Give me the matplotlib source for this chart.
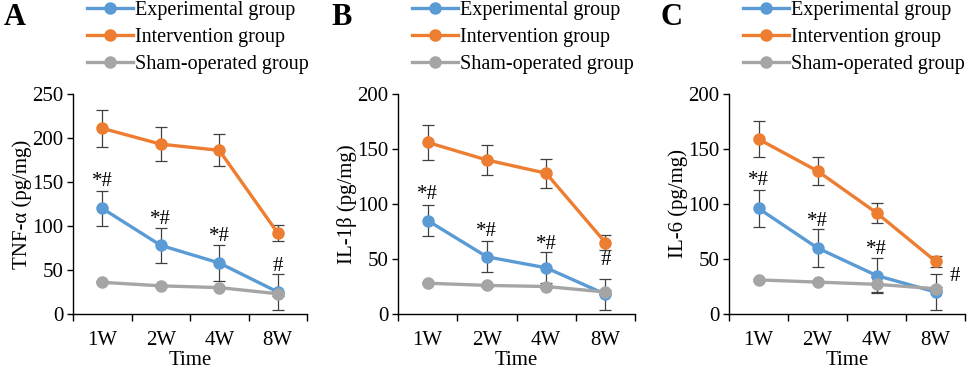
import matplotlib
matplotlib.use('Agg')
import matplotlib.pyplot as plt

plt.rcParams['font.family'] = ['Liberation Serif', 'DejaVu Serif']

weeks = ['1W', '2W', '4W', '8W']
names = ['Experimental group', 'Intervention group', 'Sham-operated group']
colors = ['#5B9BD5', '#ED7D31', '#A5A5A5']

# TNF-alpha
tnf_exp = [120, 78, 58, 25]
tnf_exp_err = [20, 20, 20, 20]
tnf_int = [211, 193, 186, 92]
tnf_int_err = [21, 19, 18, 9]
tnf_sham = [36, 32, 30, 23]
tnf_sham_err = [1, 1, 1, 2]
tnf_marks = ['*#', '*#', '*#', '#']
tnf_mark_y = [150, 107, 88, 54]

# IL-1beta
il1_exp = [85, 52, 42, 18]
il1_exp_err = [14, 14, 14, 14]
il1_int = [156, 140, 128, 65]
il1_int_err = [16, 14, 13, 7]
il1_sham = [28, 26, 25, 20]
il1_sham_err = [1, 1, 1, 2]
il1_marks = ['*#', '*#', '*#', '#']
il1_mark_y = [109, 75, 63, 49]

# IL-6
il6_exp = [96, 60, 35, 20]
il6_exp_err = [17, 17, 16, 16]
il6_int = [159, 130, 92, 48]
il6_int_err = [16, 13, 9, 5]
il6_sham = [31, 29, 27, 23]
il6_sham_err = [1, 1, 7, 2]
il6_marks = ['*#', '*#', '*#', '#']
il6_mark_y = [121, 84, 59, 34]

panels = [
    ('A', 'TNF-α (pg/mg)', 250, [tnf_exp, tnf_int, tnf_sham], [tnf_exp_err, tnf_int_err, tnf_sham_err], tnf_marks, tnf_mark_y),
    ('B', 'IL-1β (pg/mg)', 200, [il1_exp, il1_int, il1_sham], [il1_exp_err, il1_int_err, il1_sham_err], il1_marks, il1_mark_y),
    ('C', 'IL-6 (pg/mg)', 200, [il6_exp, il6_int, il6_sham], [il6_exp_err, il6_int_err, il6_sham_err], il6_marks, il6_mark_y),
]

fig = plt.figure(figsize=(9.69, 3.76), dpi=100)
W, H = 969, 376
lefts = [73, 398, 729]
widths = [234, 237, 236]
letter_x = [4, 331, 661]
fs = 15

for k, (letter, ylab, ymax, series, errs, marks, mark_y) in enumerate(panels):
    ax = fig.add_axes([lefts[k] / W, (H - 314) / H, widths[k] / W, 220 / H])
    x = range(len(weeks))
    handles = []
    for vals, err, c, nm in zip(series, errs, colors, names):
        ax.errorbar(x, vals, yerr=err, fmt='none', ecolor='#404040', elinewidth=0.9, capsize=4, capthick=0.9, zorder=2)
        h, = ax.plot(x, vals, '-o', color=c, lw=2.4, ms=8, label=nm, zorder=3)
        handles.append(h)
    for i, (m, my) in enumerate(zip(marks, mark_y)):
        xi = i
        if letter == 'C' and i == 3:
            xi = 3.32
        ax.text(xi, my, m, ha='center', va='center', fontsize=fs, zorder=4)
    ax.set_xlim(-0.5, 3.5)
    ax.set_ylim(0, ymax)
    ax.set_yticks(range(0, ymax + 1, 50))
    ax.set_xticks([-0.5, 0.5, 1.5, 2.5, 3.5])
    ax.set_xticklabels([])
    ax.set_xticks(list(x), minor=True)
    ax.set_xticklabels(weeks, minor=True)
    ax.tick_params(axis='x', which='minor', length=0, labelsize=fs, pad=12)
    ax.tick_params(axis='x', which='major', length=5, width=1, direction='out')
    ax.tick_params(axis='y', length=4, width=1, labelsize=fs, pad=3)
    for s in ['top', 'right']:
        ax.spines[s].set_visible(False)
    for s in ['left', 'bottom']:
        ax.spines[s].set_linewidth(1)
    ax.set_xlabel('Time', fontsize=fs, labelpad=1)
    ax.set_ylabel(ylab, fontsize=fs, labelpad=0)
    ax.legend(handles=handles, loc='upper left',
              bbox_to_anchor=((lefts[k] + 14) / W, 1 - 1 / H), bbox_transform=fig.transFigure,
              frameon=False, fontsize=14.5, handlelength=2.3, handletextpad=0.1,
              labelspacing=0.38, borderpad=0.0, borderaxespad=0.0)
    fig.text(letter_x[k] / W, 1 - 3 / H, letter, fontsize=22, fontweight='bold', ha='left', va='top')

fig.savefig('out.png', dpi=100)
